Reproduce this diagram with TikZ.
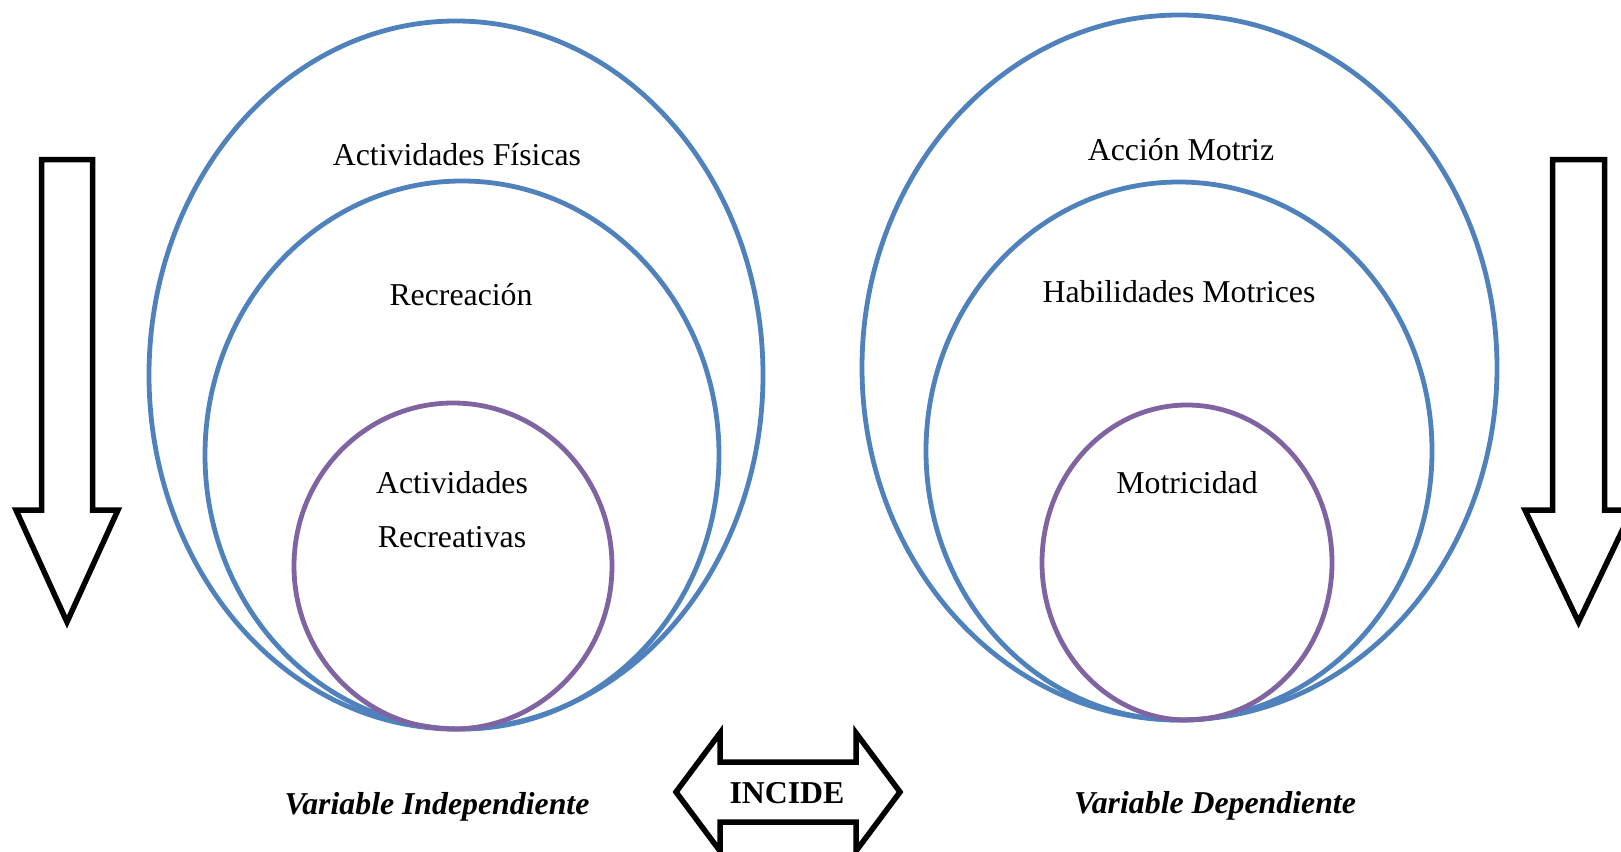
\documentclass[tikz,border=0pt]{standalone}
\usepackage{fontspec}
\setmainfont{Liberation Serif}
\definecolor{obl}{HTML}{4F81BD}
\definecolor{opu}{HTML}{8064A2}
\tikzset{
  ring/.style={draw=obl, line width=4.8pt},
  core/.style={draw=opu, line width=4.8pt},
  blockarrow/.style={draw=black, line width=5.5pt, line join=miter, miter limit=20, fill=white},
  lbl/.style={font=\fontsize{31.8}{38}\selectfont, inner sep=0pt, anchor=base},
  vlbl/.style={lbl, font=\fontsize{31.8}{38}\selectfont\bfseries\itshape}
}
\begin{document}
\begin{tikzpicture}[x=1pt,y=-1pt]
\useasboundingbox (0,0) rectangle (1621,851);

% left set of ellipses
\draw[ring] (456,375) ellipse [x radius=307pt, y radius=354pt];
\draw[ring] (462,455) ellipse [x radius=257pt, y radius=274pt];
\draw[core] (453,566) ellipse [x radius=159pt, y radius=163pt];

% right set of ellipses
\draw[ring] (1179.5,367.5) ellipse [x radius=317.5pt, y radius=352.5pt];
\draw[ring] (1179,451) ellipse [x radius=253pt, y radius=269pt];
\draw[core] (1187,562.5) ellipse [x radius=145pt, y radius=157.5pt];

% labels
\node[lbl] (af) at (457,165) {Actividades Físicas};
\node[lbl] (rec) at (461,305) {Recreación};
\node[lbl] (ar1) at (452,493) {Actividades};
\node[lbl] (ar2) at (452,547) {Recreativas};
\node[lbl] (am) at (1181,160) {Acción Motriz};
\node[lbl] (hm) at (1179,302) {Habilidades Motrices};
\node[lbl] (mo) at (1187,493) {Motricidad};
\node[vlbl] (vi) at (437,814) {Variable Independiente};
\node[vlbl] (vd) at (1215,813) {Variable Dependiente};

% left down arrow
\draw[blockarrow] (41.5,159.5) -- (92.5,159.5) -- (92.5,510) -- (118,510)
  -- (67,622) -- (16,510) -- (41.5,510) -- cycle;
% right down arrow
\draw[blockarrow] (1552.5,159.5) -- (1604.5,159.5) -- (1604.5,510) -- (1632,510)
  -- (1578.5,622) -- (1525,510) -- (1552.5,510) -- cycle;

% double arrow INCIDE
\draw[blockarrow] (676,792) -- (720,733) -- (720,762) -- (856,762) -- (856,733)
  -- (900,792) -- (856,851) -- (856,822) -- (720,822) -- (720,851) -- cycle;
\node[lbl, font=\fontsize{31.8}{38}\selectfont\bfseries] (inc) at (787,803) {INCIDE};
\end{tikzpicture}
\end{document}
